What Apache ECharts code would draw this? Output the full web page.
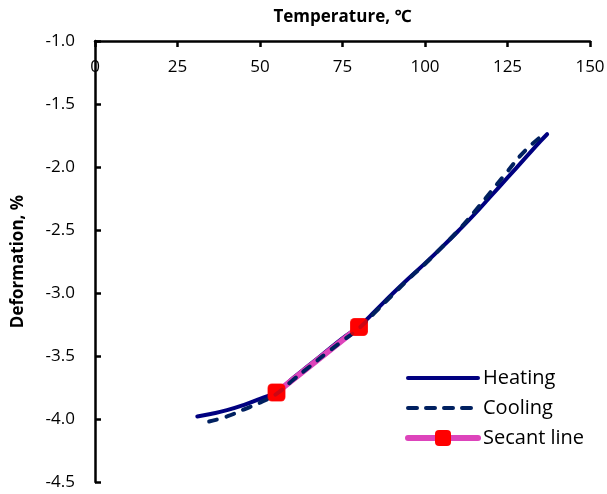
<!DOCTYPE html>
<html>
<head>
<meta charset="utf-8">
<script src="https://cdn.jsdelivr.net/npm/echarts@6/dist/echarts.min.js"></script>
<style>
  html, body { margin: 0; padding: 0; background: #fff; }
  #chart { width: 607px; height: 494px; }
</style>
</head>
<body>
<div id="chart"></div>
<script>
// Heating branch: temperature (°C) and deformation (%)
const heatingTemp = [31, 35, 40, 45, 50, 55, 60, 65, 70, 75, 80, 85, 90, 95, 100, 105, 110, 115, 120, 125, 130, 135, 137];
const heatingDef  = [-3.98, -3.96, -3.93, -3.89, -3.84, -3.785, -3.675, -3.57, -3.465, -3.36, -3.265, -3.14, -3.01, -2.885, -2.765, -2.64, -2.51, -2.375, -2.23, -2.085, -1.94, -1.795, -1.74];

// Cooling branch
const coolingTemp = [34.6, 40, 45, 50, 55, 60, 65, 70, 75, 80, 85, 90, 95, 100, 105, 110, 115, 120, 125, 130, 136];
const coolingDef  = [-4.02, -3.98, -3.925, -3.87, -3.80, -3.69, -3.585, -3.48, -3.38, -3.28, -3.15, -3.02, -2.89, -2.77, -2.64, -2.505, -2.355, -2.195, -2.035, -1.88, -1.74];

// Secant between two points of the heating curve
const secantTemp = [55, 80];
const secantDef  = [-3.79, -3.27];

// Axis ticks
const xTicks = { min: 0, max: 150, interval: 25 };
const yTicks = { min: -4.5, max: -1.0, interval: 0.5 };

const pairs = (xs, ys) => xs.map((x, i) => [x, ys[i]]);

const FONT = '"Open Sans", "Noto Sans", sans-serif';
const chart = echarts.init(document.getElementById('chart'), null, { renderer: 'canvas' });

chart.setOption({
  animation: false,
  backgroundColor: '#ffffff',
  grid: { left: 95, right: 17, top: 41, bottom: 12, containLabel: false, outerBoundsMode: 'none' },
  xAxis: {
    type: 'value',
    position: 'top',
    min: xTicks.min, max: xTicks.max, interval: xTicks.interval,
    name: 'Temperature, \u2103',
    nameLocation: 'middle',
    nameGap: 15,
    nameTextStyle: { fontFamily: FONT, fontSize: 17, fontWeight: 'bold', color: '#000' },
    axisLine: { onZero: false, lineStyle: { color: '#000', width: 2.5 } },
    axisTick: { inside: true, length: 6, lineStyle: { color: '#000', width: 2.5 } },
    axisLabel: { inside: true, margin: 18, fontFamily: FONT, fontSize: 17, color: '#000' },
    splitLine: { show: false }
  },
  yAxis: {
    type: 'value',
    min: yTicks.min, max: yTicks.max, interval: yTicks.interval,
    name: 'Deformation, %',
    nameLocation: 'middle',
    nameGap: 68,
    nameRotate: 90,
    nameTextStyle: { fontFamily: FONT, fontSize: 17, fontWeight: 'bold', color: '#000' },
    axisLine: { show: true, onZero: false, lineStyle: { color: '#000', width: 2.5 } },
    axisTick: { show: true, inside: true, length: 6, lineStyle: { color: '#000', width: 2.5 } },
    axisLabel: {
      margin: 20, fontFamily: FONT, fontSize: 17, color: '#000',
      formatter: v => v.toFixed(1)
    },
    splitLine: { show: false }
  },
  legend: {
    orient: 'vertical',
    left: 405,
    top: 368,
    padding: 0,
    itemWidth: 70,
    itemHeight: 20,
    itemGap: 10,
    textStyle: { fontFamily: FONT, fontSize: 20, color: '#000' },
    data: [
      { name: 'Heating', itemStyle: { opacity: 0 }, lineStyle: { width: 4 } },
      { name: 'Cooling', itemStyle: { opacity: 0 }, lineStyle: { width: 4, type: [9, 9], cap: 'round' } },
      { name: 'Secant line', lineStyle: { width: 6, cap: 'round' } }
    ]
  },
  series: [
    {
      name: 'Heating',
      type: 'line',
      z: 1,
      smooth: true,
      showSymbol: false,
      symbol: 'none',
      data: pairs(heatingTemp, heatingDef),
      itemStyle: { color: '#000080' },
      lineStyle: { color: '#000080', width: 4, cap: 'round' }
    },
    {
      name: 'Secant line',
      type: 'line',
      z: 2,
      data: pairs(secantTemp, secantDef),
      symbol: 'roundRect',
      symbolSize: 17,
      showSymbol: true,
      itemStyle: { color: '#ff0000' },
      lineStyle: { color: '#dd44bb', width: 6, cap: 'round' }
    },
    {
      name: 'Cooling',
      type: 'line',
      z: 3,
      smooth: true,
      showSymbol: false,
      symbol: 'none',
      data: pairs(coolingTemp, coolingDef),
      itemStyle: { color: '#002060' },
      lineStyle: { color: '#002060', width: 4, type: [8, 10], cap: 'round' }
    },
    {
      // Secant end points drawn above both curves
      name: 'secantPoints',
      type: 'scatter',
      z: 5,
      data: pairs(secantTemp, secantDef),
      symbol: 'roundRect',
      symbolSize: 18,
      itemStyle: { color: '#ff0000' }
    }
  ]
});
</script>
</body>
</html>
